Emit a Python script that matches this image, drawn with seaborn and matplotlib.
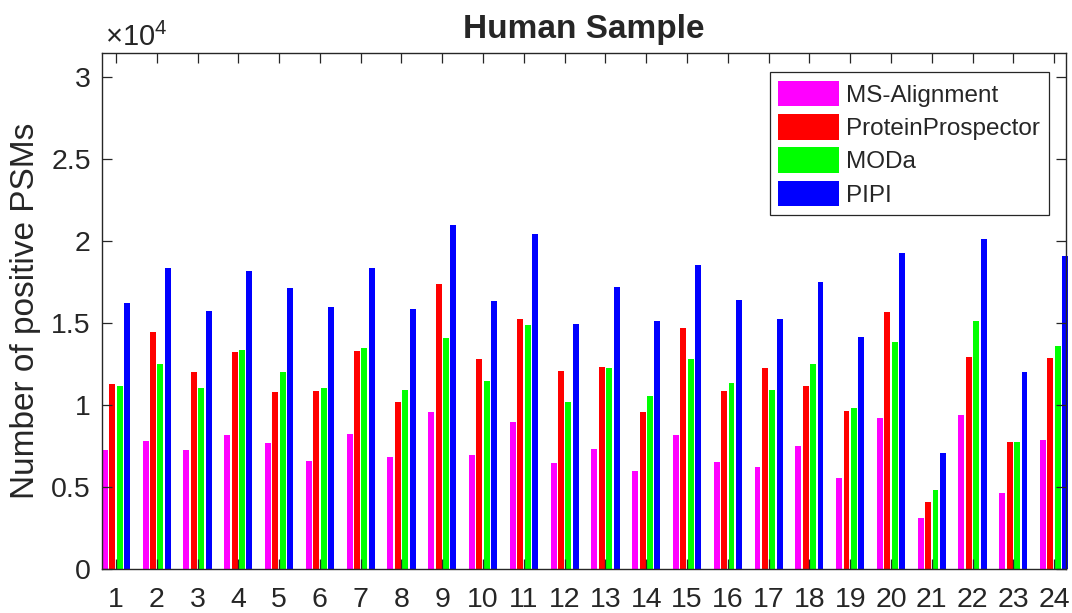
import numpy as np
import pandas as pd
import seaborn as sns
import matplotlib
matplotlib.use("Agg")
import matplotlib.pyplot as plt

# --- data ---
samples = [str(i) for i in range(1, 25)]
methods = ["MS-Alignment", "ProteinProspector", "MODa", "PIPI"]
ms_alignment = [7260, 7800, 7260, 8170, 7680, 6590, 8230, 6830, 9570, 6950, 8960, 6460,
                7320, 5980, 8170, 6520, 6220, 7500, 5550, 9210, 3110, 9390, 4630, 7870]
protein_prospector = [11280, 14450, 12010, 13230, 10790, 10850, 13290, 10180, 17380, 12800, 15240, 12070,
                      12320, 9570, 14700, 10850, 12260, 11160, 9630, 15670, 4090, 12930, 7740, 12870]
moda = [11160, 12500, 11040, 13350, 12010, 11040, 13480, 10910, 14090, 11460, 14880, 10180,
        12260, 10550, 12800, 11340, 10910, 12500, 9820, 13840, 4820, 15120, 7740, 13600]
pipi = [16220, 18350, 15730, 18170, 17130, 15980, 18350, 15850, 20980, 16340, 20430, 14940,
        17200, 15120, 18540, 16400, 15240, 17500, 14150, 19270, 7070, 20120, 12010, 19090]
colors = ["#ff00ff", "#ff0000", "#00ff00", "#0000ff"]
yticks = [0, 5000, 10000, 15000, 20000, 25000, 30000]
ytick_labels = ["0", "0.5", "1", "1.5", "2", "2.5", "3"]

df = pd.DataFrame({
    "sample": samples * 4,
    "method": np.repeat(methods, len(samples)),
    "psms": ms_alignment + protein_prospector + moda + pipi,
})

# --- style ---
sns.set_theme(style="ticks")
plt.rcParams["font.family"] = ["Liberation Sans", "DejaVu Sans"]
plt.rcParams["mathtext.fontset"] = "custom"
plt.rcParams["mathtext.rm"] = "Liberation Sans"
ink = "#262626"

fig = plt.figure(figsize=(10.72, 6.13), dpi=100)
ax = fig.add_axes([0.0951, 0.0718, 0.8993, 0.8417])

sns.barplot(
    data=df, x="sample", y="psms", hue="method",
    hue_order=methods, palette=colors, order=samples,
    width=0.727, gap=0.2, linewidth=0, saturation=1,
    legend=False, errorbar=None, ax=ax,
)
for bar in ax.patches:
    bar.set_clip_on(False)

ax.set_xlim(-0.343, 23.29)
ax.set_ylim(0, 31460)
ax.set_yticks(yticks)
ax.set_yticklabels(ytick_labels)
ax.set_xlabel("")
ax.set_ylabel("Number of positive PSMs", fontsize=24, color=ink, labelpad=7)
ax.set_title("Human Sample", fontsize=24, fontweight="bold", pad=11)
ax.set_axisbelow(False)

for side in ["left", "right", "top", "bottom"]:
    ax.spines[side].set_visible(True)
    ax.spines[side].set_color(ink)
    ax.spines[side].set_linewidth(1.0)
ax.tick_params(axis="both", direction="in", length=7, width=0.9, color=ink,
               labelcolor=ink, labelsize=20.5, top=True, right=True)
ax.tick_params(axis="x", pad=13)
ax.tick_params(axis="y", pad=8)

ax.text(0.003, 1.0136, r"$\mathregular{\times10^{4}}$", transform=ax.transAxes,
        fontsize=21, color=ink, ha="left", va="baseline")

ax.legend(
    handles=ax.containers, labels=methods,
    loc="upper right", bbox_to_anchor=(0.982, 0.963), borderaxespad=0,
    fontsize=17.5, frameon=True, fancybox=False, framealpha=1,
    edgecolor=ink, handlelength=2.5, handleheight=1.25,
    handletextpad=0.3, labelspacing=0.3, borderpad=0.35,
).get_frame().set_linewidth(0.9)

fig.savefig("out.png", dpi=100)
